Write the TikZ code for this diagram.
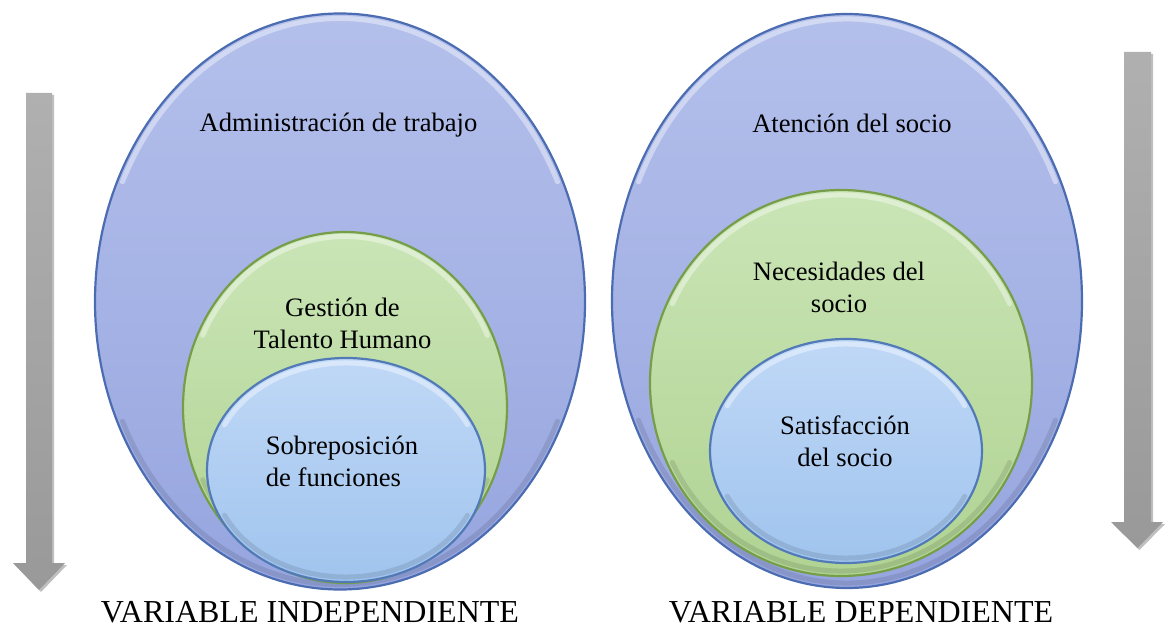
\documentclass[tikz,border=0pt]{standalone}
\usepackage{fontspec}
\setmainfont{Liberation Serif}
\usetikzlibrary{shapes.geometric,shadows}

\definecolor{outertop}{RGB}{180,192,235}
\definecolor{outerbot}{RGB}{150,165,223}
\definecolor{outerline}{RGB}{76,108,178}
\definecolor{greentop}{RGB}{202,229,182}
\definecolor{greenbot}{RGB}{176,211,147}
\definecolor{greenline}{RGB}{118,158,72}
\definecolor{innertop}{RGB}{192,216,246}
\definecolor{innerbot}{RGB}{160,196,238}
\definecolor{innerline}{RGB}{82,122,182}

\begin{document}
\begin{tikzpicture}[
  x=0.5pt, y=-0.5pt,
  outerell/.style={ellipse, draw=outerline, line width=1.1pt, inner sep=0pt,
    top color=outertop, bottom color=outerbot},
  greenell/.style={ellipse, draw=greenline, line width=1.1pt, inner sep=0pt,
    top color=greentop, bottom color=greenbot},
  innerell/.style={ellipse, draw=innerline, line width=1.1pt, inner sep=0pt,
    top color=innertop, bottom color=innerbot},
  rimlight/.style={white, opacity=0.4, line width=2.5pt, line cap=round},
  rimdark/.style={black, opacity=0.1, line width=2.5pt, line cap=round},
  txt/.style={inner sep=0pt, align=center, font=\fontsize{13.3}{16}\selectfont},
  varlabel/.style={inner sep=0pt, anchor=base, font=\fontsize{16}{19}\selectfont},
  flowarrow/.style={top color=gray!62, bottom color=gray!80,
    general shadow={fill=black, opacity=0.25, shadow xshift=1pt, shadow yshift=-1pt}}
]

\useasboundingbox (0,0) rectangle (1169,626);

% Arrows
\path[flowarrow] (26,93) -- (52,93) -- (52,563) -- (65,563) -- (39,590)
  -- (13,563) -- (26,563) -- cycle;
\path[flowarrow] (1124,52) -- (1151,52) -- (1151,522) -- (1163,522) -- (1137.5,548)
  -- (1111,522) -- (1124,522) -- cycle;

% Left: independent variable
\node[outerell, minimum width=245pt, minimum height=288pt] (admin) at (340,301.5) {};
\draw[rimlight] (admin.center) ++(205:240 and 283) arc[start angle=205, end angle=335, x radius=240, y radius=283];
\draw[rimdark] (admin.center) ++(25:240 and 283) arc[start angle=25, end angle=155, x radius=240, y radius=283];

\node[greenell, minimum width=162pt, minimum height=175.5pt] (talento) at (345,407.5) {};
\draw[rimlight] (talento.center) ++(205:157 and 171) arc[start angle=205, end angle=335, x radius=157, y radius=171];
\draw[rimdark] (talento.center) ++(25:157 and 171) arc[start angle=25, end angle=155, x radius=157, y radius=171];

\node[innerell, minimum width=139pt, minimum height=112pt] (sobre) at (346,470) {};
\draw[rimlight] (sobre.center) ++(205:134 and 107) arc[start angle=205, end angle=335, x radius=134, y radius=107];
\draw[rimdark] (sobre.center) ++(25:134 and 107) arc[start angle=25, end angle=155, x radius=134, y radius=107];

\node[txt, anchor=base] (admintxt) at (338.5,132) {Administración de trabajo};
\node[txt] (talentotxt) at (342.5,323) {Gestión de\\Talento Humano};
\node[txt, align=left] (sobretxt) at (342,461) {Sobreposición\\de funciones};

% Right: dependent variable
\node[outerell, minimum width=235pt, minimum height=287pt] (atencion) at (847,301) {};
\draw[rimlight] (atencion.center) ++(205:230 and 282) arc[start angle=205, end angle=335, x radius=230, y radius=282];
\draw[rimdark] (atencion.center) ++(25:230 and 282) arc[start angle=25, end angle=155, x radius=230, y radius=282];

\node[greenell, minimum width=191pt, minimum height=193pt] (necesidad) at (841,383) {};
\draw[rimlight] (necesidad.center) ++(205:186 and 188) arc[start angle=205, end angle=335, x radius=186, y radius=188];
\draw[rimdark] (necesidad.center) ++(25:186 and 188) arc[start angle=25, end angle=155, x radius=186, y radius=188];

\node[innerell, minimum width=136pt, minimum height=112pt] (satisf) at (846,451) {};
\draw[rimlight] (satisf.center) ++(205:131 and 107) arc[start angle=205, end angle=335, x radius=131, y radius=107];
\draw[rimdark] (satisf.center) ++(25:131 and 107) arc[start angle=25, end angle=155, x radius=131, y radius=107];

\node[txt, anchor=base] (atenciontxt) at (852,133) {Atención del socio};
\node[txt] (necesidadtxt) at (839,287) {Necesidades del\\socio};
\node[txt] (satisftxt) at (845,441) {Satisfacción\\del socio};

% Labels
\node[varlabel] (indep) at (310,622) {VARIABLE INDEPENDIENTE};
\node[varlabel] (dep) at (861,622) {VARIABLE DEPENDIENTE};

\end{tikzpicture}
\end{document}
